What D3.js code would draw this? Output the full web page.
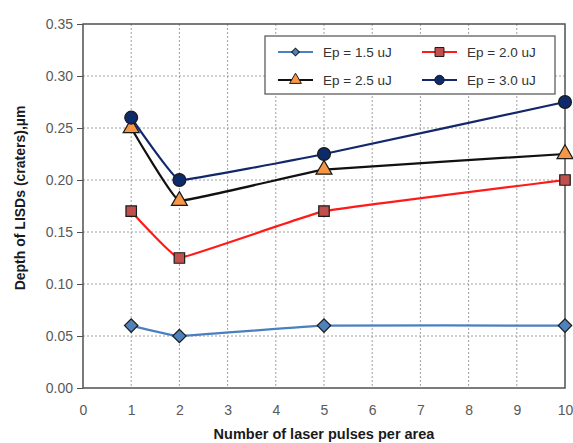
<!DOCTYPE html>
<html><head><meta charset="utf-8">
<script src="https://cdn.jsdelivr.net/npm/d3@7"></script>
<style>body{margin:0;background:#fff;} svg{display:block;}</style>
</head><body>
<svg id="chart" width="573" height="443"></svg>
<script>
const xValues = [1, 2, 5, 10];
const ep15 = [0.06, 0.05, 0.06, 0.06];
const ep20 = [0.17, 0.125, 0.17, 0.20];
const ep25 = [0.25, 0.18, 0.21, 0.225];
const ep30 = [0.26, 0.20, 0.225, 0.275];
const seriesNames = ["Ep = 1.5 uJ", "Ep = 2.0 uJ", "Ep = 2.5 uJ", "Ep = 3.0 uJ"];
const xTicks = [0,1,2,3,4,5,6,7,8,9,10];
const yTicks = [0,0.05,0.10,0.15,0.20,0.25,0.30,0.35];

const series = [
  {name: seriesNames[0], values: ep15, line: "#4a7fc0", fill: "#4f81bd", shape: d3.symbolSquare, rot: 45, size: 90, lsize: 30},
  {name: seriesNames[1], values: ep20, line: "#ff1a1a", fill: "#c0504d", shape: d3.symbolSquare, rot: 0, size: 110, lsize: 80},
  {name: seriesNames[2], values: ep25, line: "#111111", fill: "#f79646", shape: d3.symbolTriangle, rot: 0, size: 110, lsize: 60},
  {name: seriesNames[3], values: ep30, line: "#13286b", fill: "#0d2a6b", shape: d3.symbolCircle, rot: 0, size: 130, lsize: 70}
];

const FONT = "Liberation Sans, Arial, sans-serif";
const svg = d3.select("#chart");
const L = 83, R = 565, T = 24, B = 388;
const x = d3.scaleLinear().domain([0,10]).range([L,R]);
const y = d3.scaleLinear().domain([0,0.35]).range([B,T]);

// grid
svg.append("g").selectAll("line").data(yTicks.slice(1,-1)).join("line")
  .attr("x1", L).attr("x2", R).attr("y1", d=>y(d)).attr("y2", d=>y(d))
  .attr("stroke", "#a0a0a0").attr("stroke-width", 1).attr("stroke-dasharray", "2,2");
svg.append("g").selectAll("line").data(xTicks.slice(1,-1)).join("line")
  .attr("y1", T).attr("y2", B).attr("x1", d=>x(d)).attr("x2", d=>x(d))
  .attr("stroke", "#a0a0a0").attr("stroke-width", 1).attr("stroke-dasharray", "2,2");

// frame
svg.append("rect").attr("x", L).attr("y", T).attr("width", R-L).attr("height", B-T)
  .attr("fill", "none").attr("stroke", "#505050").attr("stroke-width", 1.5);

// y axis
const yAxis = d3.axisLeft(y).tickValues(yTicks).tickFormat(d3.format(".2f")).tickSize(6).tickPadding(4);
const gy = svg.append("g").attr("transform", `translate(${L},0)`).call(yAxis);
gy.select(".domain").remove();
gy.selectAll("line").attr("stroke", "#505050");
gy.selectAll("text").attr("font-family", FONT).attr("font-size", 14).attr("fill", "#595959");

// x axis
const xAxis = d3.axisBottom(x).tickValues(xTicks).tickFormat(d3.format("d")).tickSize(0).tickPadding(17);
const gx = svg.append("g").attr("transform", `translate(0,${B})`).call(xAxis);
gx.select(".domain").remove();
gx.selectAll("text").attr("font-family", FONT).attr("font-size", 14).attr("fill", "#595959");

// titles
svg.append("text").attr("x", (L+R)/2).attr("y", 439).attr("text-anchor", "middle")
  .attr("font-family", FONT).attr("font-size", 14.5).attr("font-weight", "bold").attr("fill", "#1a1a1a")
  .text("Number of laser pulses per area");
svg.append("text").attr("transform", `translate(25,198) rotate(-90)`).attr("text-anchor", "middle")
  .attr("font-family", FONT).attr("font-size", 14).attr("font-weight", "bold").attr("fill", "#1a1a1a")
  .text("Depth of LISDs (craters),µm");

// lines
const line = d3.line().x(d=>x(d[0])).y(d=>y(d[1])).curve(d3.curveCardinal.tension(0.8));
series.forEach(s => {
  const pts = xValues.map((xv,i)=>[xv, s.values[i]]);
  svg.append("path").datum(pts).attr("d", line).attr("fill", "none")
    .attr("stroke", s.line).attr("stroke-width", 2.2);
});
series.forEach(s => {
  const pts = xValues.map((xv,i)=>[xv, s.values[i]]);
  svg.append("g").selectAll("path").data(pts).join("path")
    .attr("d", d3.symbol().type(s.shape).size(s.size))
    .attr("transform", d=>`translate(${x(d[0])},${y(d[1])}) rotate(${s.rot})`)
    .attr("fill", s.fill).attr("stroke", "#1a1a1a").attr("stroke-width", 1.2);
});

// legend
const lg = svg.append("g");
lg.append("rect").attr("x", 265).attr("y", 36).attr("width", 290).attr("height", 58)
  .attr("fill", "#fff").attr("stroke", "#505050").attr("stroke-width", 1.2);
const pos = [[278,52],[422,52],[278,80],[422,80]];
series.forEach((s,i) => {
  const [lx, ly] = pos[i];
  lg.append("line").attr("x1", lx).attr("x2", lx+35).attr("y1", ly).attr("y2", ly)
    .attr("stroke", s.line).attr("stroke-width", 2.2);
  lg.append("path").attr("d", d3.symbol().type(s.shape).size(s.lsize))
    .attr("transform", `translate(${lx+17.5},${ly}) rotate(${s.rot})`)
    .attr("fill", s.fill).attr("stroke", "#1a1a1a").attr("stroke-width", 1);
  lg.append("text").attr("x", lx+45).attr("y", ly+5)
    .attr("font-family", FONT).attr("font-size", 13.5).attr("fill", "#333")
    .text(s.name);
});
</script>
</body></html>
